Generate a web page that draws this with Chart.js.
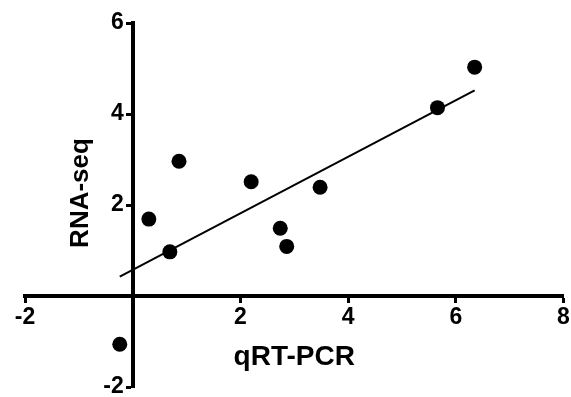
<!DOCTYPE html>
<html>
<head>
<meta charset="utf-8">
<script src="https://cdn.jsdelivr.net/npm/chart.js@4.4.1/dist/chart.umd.min.js"></script>
<style>
  html, body { margin: 0; padding: 0; background: #fff; }
  #wrap { width: 571px; height: 397px; position: relative; }
</style>
</head>
<body>
<div id="wrap"><canvas id="c" width="571" height="397"></canvas></div>
<script>
const qrtPcr = [-0.24, 0.30, 0.69, 0.86, 2.20, 2.74, 2.86, 3.48, 5.66, 6.35];
const rnaSeq = [-1.06, 1.69, 0.97, 2.96, 2.51, 1.49, 1.09, 2.39, 4.14, 5.03];
const xTicks = [-2, 0, 2, 4, 6, 8];
const yTicks = [-2, 0, 2, 4, 6];
const xTitle = 'qRT-PCR';
const yTitle = 'RNA-seq';

// least-squares fit computed from the data
const n = qrtPcr.length;
const mx = qrtPcr.reduce((a, b) => a + b, 0) / n;
const my = rnaSeq.reduce((a, b) => a + b, 0) / n;
let sxy = 0, sxx = 0;
for (let i = 0; i < n; i++) { sxy += (qrtPcr[i] - mx) * (rnaSeq[i] - my); sxx += (qrtPcr[i] - mx) ** 2; }
const slope = sxy / sxx, intercept = my - slope * mx;
const xMin = Math.min(...qrtPcr), xMax = Math.max(...qrtPcr);
const fitLine = [{x: xMin, y: intercept + slope * xMin}, {x: xMax, y: intercept + slope * xMax}];

const FONT = "'Liberation Sans', Arial, sans-serif";

const shiftYLabels = {
  id: 'shiftYLabels',
  beforeDraw(chart) {
    const s = chart.scales.y;
    const items = s.getLabelItems();
    if (!items._shifted) {
      items.forEach(it => { it.options.translation[0] -= 9; });
      items._shifted = true;
    }
  }
};
const titles = {
  id: 'titles',
  afterDraw(chart) {
    const ctx = chart.ctx;
    ctx.save();
    ctx.fillStyle = '#000';
    ctx.font = 'bold 28px ' + FONT;
    ctx.textAlign = 'center';
    ctx.textBaseline = 'alphabetic';
    const xs = chart.scales.x, ys = chart.scales.y;
    ctx.fillText(xTitle, (xs.left + xs.right) / 2, ys.getPixelForValue(0) + 69);
    ctx.translate(xs.getPixelForValue(0) - 45, (ys.top + ys.bottom) / 2 - 12);
    ctx.rotate(-Math.PI / 2);
    ctx.font = 'bold 26px ' + FONT;
    ctx.fillText(yTitle, 0, 0);
    ctx.restore();
  }
};

function noPad(s) { s.paddingLeft = 0; s.paddingRight = 0; s.paddingTop = 0; s.paddingBottom = 0; }

new Chart(document.getElementById('c'), {
  type: 'scatter',
  data: {
    datasets: [
      {
        data: qrtPcr.map((x, i) => ({x, y: rnaSeq[i]})),
        backgroundColor: '#000', borderColor: '#000',
        pointRadius: 7.5, pointHoverRadius: 7.5, borderWidth: 0
      },
      {
        type: 'line',
        data: fitLine,
        borderColor: '#000', borderWidth: 2,
        pointRadius: 0, fill: false
      }
    ]
  },
  options: {
    responsive: false,
    animation: false,
    events: [],
    layout: { padding: { left: 25, right: 6, top: 23, bottom: 10 } },
    plugins: { legend: { display: false }, tooltip: { enabled: false } },
    scales: {
      x: {
        type: 'linear', min: -2, max: 8,
        position: { y: 0 },
        afterFit(s) { s.height = 0; noPad(s); },
        afterBuildTicks(s) { s.ticks = xTicks.map(v => ({value: v})); },
        grid: { drawOnChartArea: false, drawTicks: true, tickLength: 5, tickWidth: 3, tickColor: '#000' },
        border: { display: true, color: '#000', width: 4 },
        ticks: {
          color: '#000', padding: 3,
          font: { family: FONT, size: 23, weight: 'bold' },
          callback: v => v === 0 ? '' : String(v)
        }
      },
      y: {
        type: 'linear', min: -2, max: 6,
        position: { x: 0 },
        afterFit(s) { s.width = 0; noPad(s); },
        afterBuildTicks(s) { s.ticks = yTicks.map(v => ({value: v})); },
        grid: { drawOnChartArea: false, drawTicks: true, tickLength: 5, tickWidth: 3, tickColor: '#000' },
        border: { display: true, color: '#000', width: 4 },
        ticks: {
          color: '#000',
          font: { family: FONT, size: 23, weight: 'bold' },
          callback: v => v === 0 ? '' : String(v)
        }
      }
    }
  },
  plugins: [shiftYLabels, titles]
});
</script>
</body>
</html>
